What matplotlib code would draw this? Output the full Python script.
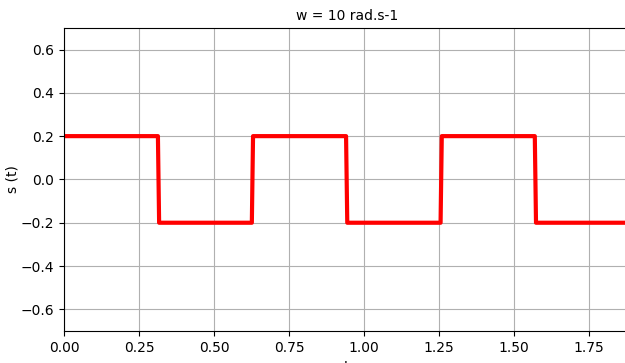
import matplotlib
matplotlib.use('Agg')
import matplotlib.pyplot as plt

# square wave vertices (w = 10 rad/s, amplitude 0.2)
t = [0.0, 0.313, 0.317, 0.626, 0.630, 0.940, 0.944, 1.255, 1.259, 1.569, 1.573, 1.885]
s = [0.2, 0.2, -0.2, -0.2, 0.2, 0.2, -0.2, -0.2, 0.2, 0.2, -0.2, -0.2]

fig = plt.figure(figsize=(6.25, 3.63), dpi=100)
ax = fig.add_axes([0.1024, 0.0882, 0.905, 0.835])

ax.plot(t, s, color='red', linewidth=3)

ax.set_xlim(0, 1.885)
ax.set_ylim(-0.7, 0.7)
ax.set_xticks([0.0, 0.25, 0.5, 0.75, 1.0, 1.25, 1.5, 1.75])
ax.set_yticks([-0.6, -0.4, -0.2, 0.0, 0.2, 0.4, 0.6])
ax.grid(True)
ax.set_title('w = 10 rad.s-1', fontsize=10)
ax.set_xlabel('t', fontsize=10)
ax.set_ylabel('s (t)', fontsize=10, labelpad=1)

fig.savefig('out.png', dpi=100)
